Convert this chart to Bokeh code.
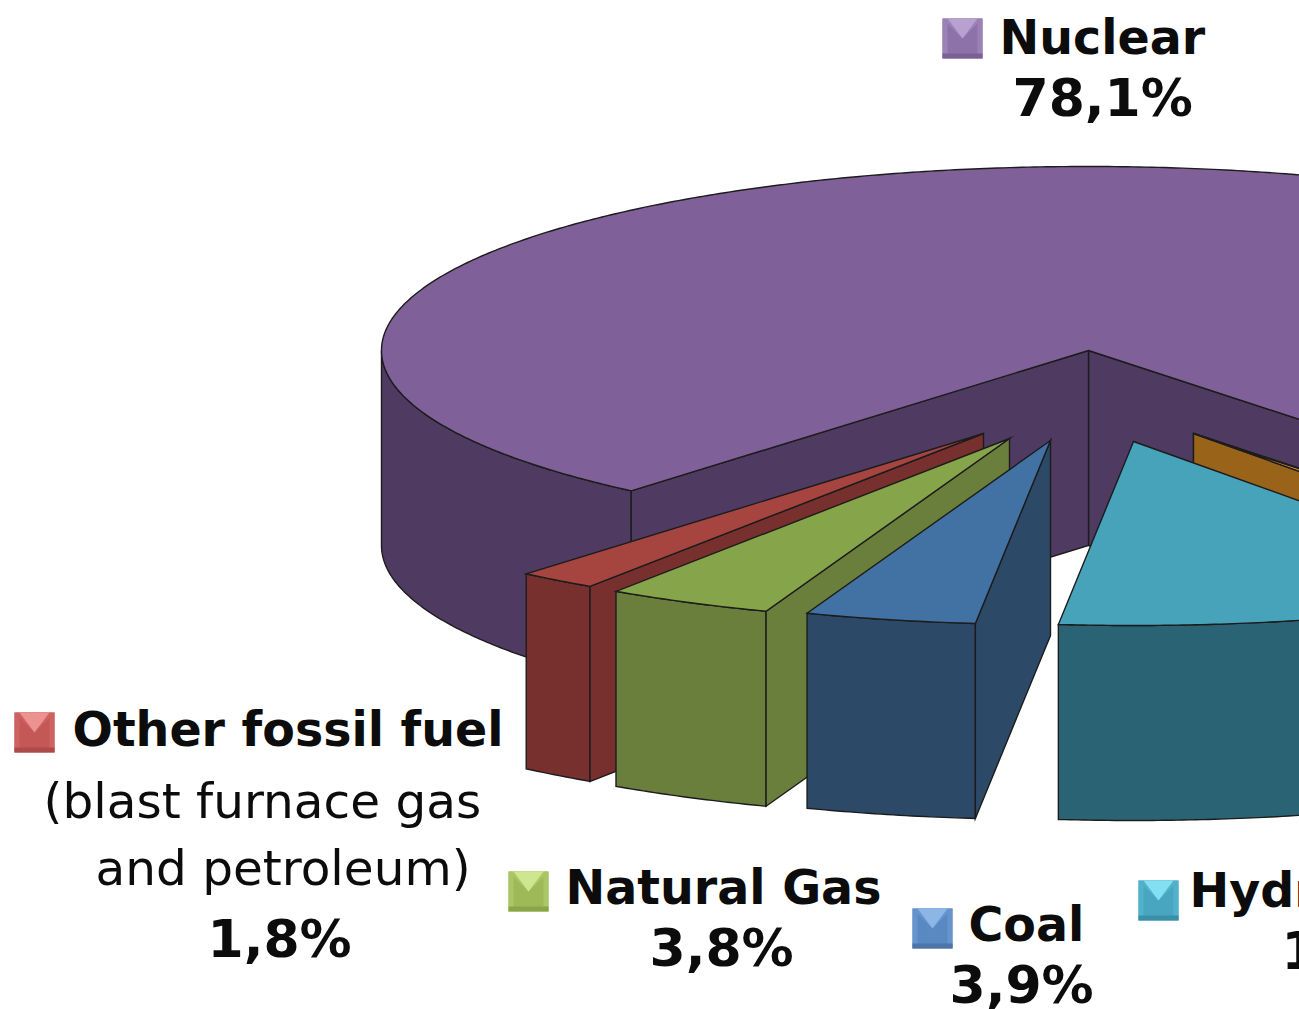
import numpy as np
from bokeh.plotting import figure
from bokeh.models import ColumnDataSource, Range1d
from bokeh.core.properties import value
from bokeh.embed import file_html
from bokeh.resources import INLINE

# ---- data
categories = ["Nuclear", "Trace A", "Trace B", "Hydro", "Coal", "Natural Gas", "Other fossil fuel"]
shares = [78.1, 0.2, 0.5, 11.7, 3.9, 3.8, 1.8]

# ---- pie layout (not data)
CX, CY, RX, RY, DEPTH = 1088.0, 350.0, 707.0, 184.0, 195.0
START_DEG = 319.7
shift = {"Nuclear": (0, 0), "Trace A": (105, 83), "Trace B": (105, 83), "Hydro": (45, 91),
         "Coal": (-38, 90), "Natural Gas": (-79, 88), "Other fossil fuel": (-105, 83)}
top_col = {"Nuclear": "#7F6098", "Trace A": "#5A2A66", "Trace B": "#EDA52E", "Hydro": "#47A3BA",
           "Coal": "#4272A4", "Natural Gas": "#86A44A", "Other fossil fuel": "#A64540"}
wall_col = {"Nuclear": "#4F3A61", "Trace A": "#4A2355", "Trace B": "#996319", "Hydro": "#2A6373",
            "Coal": "#2C4A68", "Natural Gas": "#6B7F3C", "Other fossil fuel": "#78302E"}
draw_order = ["Nuclear", "Trace A", "Trace B", "Other fossil fuel", "Natural Gas", "Coal", "Hydro"]
OUTLINE = "#1c1c1c"

extent = {}
ang = START_DEG - 360.0
for name in ["Other fossil fuel", "Natural Gas", "Coal", "Hydro", "Trace B", "Trace A", "Nuclear"]:
    sweep = shares[categories.index(name)] * 3.6
    extent[name] = (ang, ang + sweep)
    ang += sweep


def pt(theta, dx, dy):
    t = np.radians(theta)
    return CX + dx + RX * np.sin(t), CY + dy + RY * np.cos(t)


xs, ys, fills = [], [], []


def add(px, py, col):
    xs.append(list(map(float, px)))
    ys.append(list(map(float, py)))
    fills.append(col)


for name in draw_order:
    a, b = extent[name]
    dx, dy = shift[name]
    tipx, tipy = CX + dx, CY + dy
    th = np.linspace(a, b, max(6, int((b - a) * 2)))
    ax, ay = pt(th, dx, dy)
    mask = np.cos(np.radians(th)) > 0
    idx = np.where(mask)[0]
    if len(idx):
        groups = np.split(idx, np.where(np.diff(idx) > 1)[0] + 1)
        for g in groups:
            add(np.r_[ax[g], ax[g][::-1]], np.r_[ay[g], ay[g][::-1] + DEPTH], wall_col[name])
    if np.sin(np.radians(a)) > 0:
        px, py = pt(a, dx, dy)
        add([tipx, px, px, tipx], [tipy, py, py + DEPTH, tipy + DEPTH], wall_col[name])
    if np.sin(np.radians(b)) < 0:
        px, py = pt(b, dx, dy)
        add([tipx, px, px, tipx], [tipy, py, py + DEPTH, tipy + DEPTH], wall_col[name])
    add(np.r_[tipx, ax], np.r_[tipy, ay], top_col[name])

p = figure(width=1299, height=1009, x_range=Range1d(0, 1299), y_range=Range1d(1009, 0),
           x_axis_type=None, y_axis_type=None, toolbar_location=None, output_backend="svg",
           min_border=0, outline_line_color=None, background_fill_color="white")
p.grid.visible = False

p.patches("xs", "ys", source=ColumnDataSource(dict(xs=xs, ys=ys, fill=fills)),
          fill_color="fill", line_color=OUTLINE, line_width=1.4, line_join="miter")

# ---- legend keys (bevelled squares)
KEY = 40
key_pos = {"Nuclear": (942, 18), "Natural Gas": (508, 871), "Coal": (912, 908),
           "Hydro": (1138, 880), "Other fossil fuel": (14, 712)}
key_cols = {"Nuclear": ("#B8A0D0", "#9A82B6", "#8C72A8", "#7A6096"),
            "Natural Gas": ("#CFE690", "#AAC666", "#9EBA58", "#8AA448"),
            "Coal": ("#8CB6E6", "#6694CC", "#5A88C0", "#4C74A8"),
            "Hydro": ("#82E0F4", "#52B2CC", "#48A6C0", "#3A90A8"),
            "Other fossil fuel": ("#EC9290", "#CE6260", "#C45856", "#AE4A48")}
kx, ky, kc = [], [], []
for name, (x0, y0) in key_pos.items():
    x1, y1 = x0 + KEY, y0 + KEY
    mx, my = x0 + KEY / 2, y0 + KEY / 2
    top, side, mid, bot = key_cols[name]
    kx += [[x0, x1, x1, x0], [x0, x1, mx], [x0 + 5, x1 - 5, mx], [x0, x0 + 5, x0 + 5, x0],
           [x1, x1 - 5, x1 - 5, x1], [x0, x1, x1, x0]]
    ky += [[y0, y0, y1, y1], [y0, y0, my], [y0, y0, my], [y0, y0 + 5, y1 - 5, y1],
           [y0, y0 + 5, y1 - 5, y1], [y1 - 5, y1 - 5, y1, y1]]
    kc += [mid, side, top, side, side, bot]
p.patches(kx, ky, fill_color=kc, line_color=None)


def pct(name):
    return f"{shares[categories.index(name)]:.1f}".replace(".", ",") + "%"


labels = [
    ("Nuclear", 999, 37, "bold", 47.5),
    (pct("Nuclear"), 1012, 97, "bold", 52),
    ("Other fossil fuel", 72, 729, "bold", 47.5),
    ("(blast furnace gas", 43, 800, "normal", 48.5),
    ("and petroleum)", 95, 867, "normal", 48.5),
    (pct("Other fossil fuel"), 207, 938, "bold", 52),
    ("Natural Gas", 565, 887, "bold", 47.5),
    (pct("Natural Gas"), 649, 947, "bold", 52),
    ("Coal", 968, 924, "bold", 47.5),
    (pct("Coal"), 949, 984, "bold", 52),
    ("Hydro", 1189, 890, "bold", 47.5),
    (pct("Hydro"), 1281, 950, "bold", 52),
]
for txt, x, y, style, size in labels:
    p.text(x=[x], y=[y], text=[txt], text_font=value("DejaVu Sans"), text_font_style=style,
           text_font_size=f"{size}px", text_color="#0c0c0c", text_align="left", text_baseline="middle")

open("out.html", "w").write(file_html(p, INLINE))
